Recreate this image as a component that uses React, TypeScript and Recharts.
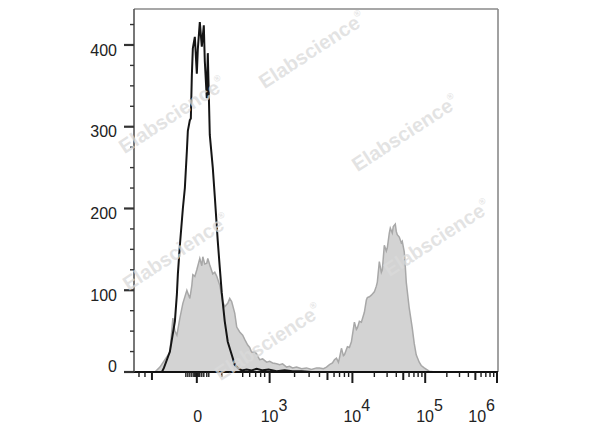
import React from "react";
import { ComposedChart, Area, Line, XAxis, YAxis, ReferenceLine } from "recharts";

// x values are positions on the biexponential display axis (channel units), y = event count
const blackSeries: [number, number][] = [
  [-63, 0], [-35, 0], [-33, 5], [-30, 15], [-27, 25], [-25, 40], [-22, 62], [-20, 95],
  [-19, 120], [-17, 155], [-14, 200], [-12, 225], [-10, 270], [-9, 295], [-7, 308],
  [-6, 310], [-5, 363], [-4, 396], [-2, 410], [0, 365], [1, 395], [3, 428], [5, 398],
  [7, 424], [8, 380], [10, 335], [11, 390], [13, 290], [16, 250], [18, 215], [21, 160],
  [23, 128], [25, 97], [28, 62], [31, 37], [35, 21], [38, 9], [41, 5], [45, 2], [50, 3],
  [55, 2], [60, 4], [66, 2], [72, 3], [80, 1], [88, 2], [96, 1], [105, 1], [115, 0], [302, 0],
];

const graySeries: [number, number][] = [
  [-63, 0], [-42, 0], [-37, 6], [-32, 15], [-27, 24], [-24, 66], [-22, 50], [-20, 45],
  [-17, 66], [-14, 84], [-10, 100], [-7, 90], [-5, 106], [-4, 119], [-2, 117], [0, 125],
  [3, 139], [5, 130], [6, 141], [8, 132], [10, 133], [11, 139], [13, 131], [16, 120],
  [18, 122], [20, 117], [23, 106], [26, 86], [28, 80], [31, 84], [33, 90], [35, 86],
  [38, 72], [40, 55], [43, 49], [46, 45], [48, 40], [51, 33], [53, 30], [55, 24], [58, 25],
  [60, 22], [63, 15], [66, 16], [70, 12], [73, 13], [76, 11], [80, 10], [83, 9], [86, 10],
  [90, 6], [93, 7], [96, 5], [100, 6], [105, 4], [110, 5], [115, 3], [120, 5], [123, 5],
  [127, 4], [130, 6], [133, 9], [136, 11], [138, 15], [140, 17], [142, 12], [143, 17],
  [145, 29], [147, 20], [148, 21], [151, 31], [153, 30], [155, 37], [158, 61], [160, 52],
  [161, 54], [163, 62], [165, 61], [168, 73], [170, 88], [171, 91], [173, 92], [175, 94],
  [178, 98], [180, 105], [181, 110], [183, 135], [185, 122], [186, 125], [188, 155],
  [190, 148], [191, 152], [193, 170], [194, 176], [196, 170], [197, 178], [199, 181],
  [200, 172], [201, 168], [203, 165], [205, 158], [206, 160], [208, 147], [209, 130],
  [210, 110], [213, 78], [216, 54], [218, 35], [220, 21], [223, 12], [225, 8], [228, 5],
  [233, 1], [239, 0], [302, 0],
];

const yTicks = [0, 25, 50, 75, 100, 125, 150, 175, 200, 225, 250, 275, 300, 325, 350, 375, 400, 425];
const yLabeled = [0, 100, 200, 300, 400];

const xMajorTicks = [0, 73, 156, 229, 301];
const xMajorLabels = ["0", "10^3", "10^4", "10^5", "10^6"];
const xMediumTicks = [-45];
const xMinorTicks = [-58, -52, -11, -9, -7, -5, -3, -2, -1, 1, 2, 3, 5, 7, 10, 12, 25, 46, 53, 59, 64, 68];
const decadeMultipliers = [2, 3, 4, 5, 6, 7, 8, 9];

const X_DOMAIN: [number, number] = [-63, 302];
const Y_DOMAIN: [number, number] = [0, 444];

const decadeTicks: { v: number; medium: boolean }[] = [];
for (let k = 1; k < xMajorTicks.length - 1; k++) {
  const a = xMajorTicks[k];
  const b = xMajorTicks[k + 1];
  decadeMultipliers.forEach((m) => {
    decadeTicks.push({ v: Math.round((a + (b - a) * Math.log10(m)) * 10) / 10, medium: m === 5 });
  });
}
const mediumSet = new Set<number>([...xMediumTicks, ...decadeTicks.filter((d) => d.medium).map((d) => d.v)]);
const allXTicks = Array.from(
  new Set<number>([...xMajorTicks, ...xMediumTicks, ...xMinorTicks, ...decadeTicks.map((d) => d.v)])
).sort((p, q) => p - q);

const blackData = blackSeries.map(([x, y]) => ({ x, black: y }));
const grayData = graySeries.map(([x, y]) => ({ x, gray: y }));

const FONT = "'Liberation Sans', Arial, Helvetica, sans-serif";

const XTick = (props: any) => {
  const { x, y, payload } = props;
  const v = payload.value;
  const mi = xMajorTicks.indexOf(v);
  const isMajor = mi >= 0;
  const len = isMajor ? 11 : mediumSet.has(v) ? 8 : 5;
  let label: React.ReactNode = null;
  if (isMajor) {
    const txt = xMajorLabels[mi];
    if (txt.includes("^")) {
      const [base, exp] = txt.split("^");
      const last = mi === xMajorTicks.length - 1;
      label = (
        <text
          x={last ? x - 2 : x - 9}
          y={y + 50}
          textAnchor={last ? "end" : "start"}
          fontSize={16}
          fill="#222"
          fontFamily={FONT}
        >
          <tspan>{base}</tspan>
          <tspan dy={-11}>{exp}</tspan>
        </text>
      );
    } else {
      label = (
        <text x={x + 1} y={y + 50} textAnchor="middle" fontSize={16} fill="#222" fontFamily={FONT}>
          {txt}
        </text>
      );
    }
  }
  return (
    <g>
      <line x1={x} x2={x} y1={y} y2={y + len} stroke="#1a1a1a" strokeWidth={isMajor || mediumSet.has(v) ? 2 : 1.4} />
      {label}
    </g>
  );
};

const YTick = (props: any) => {
  const { x, y, payload } = props;
  const v = payload.value;
  const isMajor = yLabeled.includes(v);
  return (
    <g>
      <line x1={x - (isMajor ? 10 : 4)} x2={x} y1={y} y2={y} stroke="#333" strokeWidth={isMajor ? 2.2 : 1.4} />
      {isMajor && (
        <text
          x={x - 17}
          y={v === 0 ? y - 6 : y + 5}
          dy="0.36em"
          textAnchor="end"
          fontSize={16}
          fill="#222"
          fontFamily={FONT}
        >
          {v}
        </text>
      )}
    </g>
  );
};

const watermarkSpots: [number, number][] = [
  [304, 42], [164, 107], [397, 125], [168, 244], [429, 230], [260, 334],
];

export default function App() {
  return (
    <div style={{ position: "relative", width: 592, height: 419 }}>
      <ComposedChart
        width={592}
        height={419}
        margin={{ top: 1, right: 102, bottom: 0, left: 0 }}
        style={{ fontFamily: FONT }}
      >
        <XAxis
          dataKey="x"
          type="number"
          domain={X_DOMAIN}
          allowDataOverflow
          ticks={allXTicks}
          interval={0}
          tick={XTick}
          tickLine={false}
          tickSize={0}
          tickMargin={0}
          height={55}
          axisLine={{ stroke: "#111", strokeWidth: 2 }}
        />
        <YAxis
          type="number"
          domain={Y_DOMAIN}
          allowDataOverflow
          ticks={yTicks}
          interval={0}
          tick={YTick}
          tickLine={false}
          tickSize={0}
          tickMargin={0}
          width={126}
          axisLine={{ stroke: "#555", strokeWidth: 1.6 }}
        />
        <ReferenceLine y={444} stroke="#8a8a8a" strokeWidth={1.6} />
        <ReferenceLine x={302} stroke="#8a8a8a" strokeWidth={1.6} />
        <Area
          data={grayData}
          dataKey="gray"
          type="linear"
          fill="#d3d3d3"
          fillOpacity={1}
          stroke="#a8a8a8"
          strokeWidth={1.5}
          isAnimationActive={false}
          dot={false}
          activeDot={false}
        />
        <Line
          data={blackData}
          dataKey="black"
          type="linear"
          stroke="#151515"
          strokeWidth={2}
          dot={false}
          activeDot={false}
          isAnimationActive={false}
        />
      </ComposedChart>
      <svg
        width={592}
        height={419}
        style={{ position: "absolute", left: 0, top: 0, pointerEvents: "none" }}
      >
        {watermarkSpots.map(([cx, cy], i) => (
          <text
            key={i}
            x={cx}
            y={cy}
            dy="0.35em"
            transform={`rotate(-33 ${cx} ${cy})`}
            textAnchor="middle"
            fontSize={20}
            fontWeight="bold"
            fill="#dadada"
            fillOpacity={0.75}
            fontFamily={FONT}
          >
            Elabscience
            <tspan fontSize={9} dy={-10}>®</tspan>
          </text>
        ))}
      </svg>
    </div>
  );
}
